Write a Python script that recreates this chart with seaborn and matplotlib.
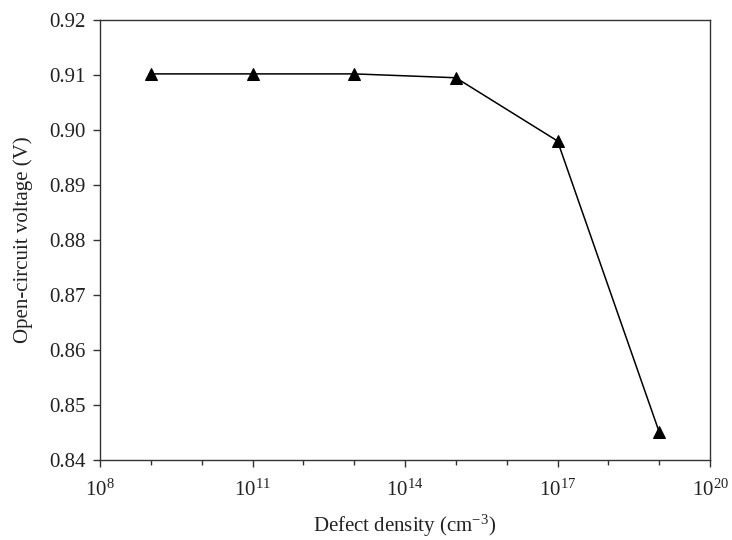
import matplotlib
matplotlib.use("Agg")
import matplotlib.pyplot as plt
import seaborn as sns
import numpy as np
import pandas as pd
from matplotlib.ticker import FixedLocator, FuncFormatter

defect_density = [1e9, 1e11, 1e13, 1e15, 1e17, 1e19]
voc = [0.9102, 0.9102, 0.9102, 0.9095, 0.8980, 0.8451]
y_ticks = [0.84, 0.85, 0.86, 0.87, 0.88, 0.89, 0.90, 0.91, 0.92]
x_major = [1e8, 1e11, 1e14, 1e17, 1e20]

sns.set_theme(style="ticks")
plt.rcParams['font.family'] = ['Liberation Serif', 'DejaVu Serif']
plt.rcParams['mathtext.fontset'] = 'custom'
plt.rcParams['mathtext.rm'] = 'Liberation Serif'
plt.rcParams['mathtext.it'] = 'Liberation Serif:italic'

df = pd.DataFrame({"x": defect_density, "y": voc})

fig = plt.figure(figsize=(7.32, 5.4), dpi=100)
ax = fig.add_axes([0.1366, 0.148, 0.8334, 0.815])
sns.lineplot(data=df, x="x", y="y", ax=ax, color="black", linewidth=1.1,
             marker="^", markersize=8, markeredgecolor="black", markerfacecolor="black")
ax.set_xscale("log")
ax.set_xlim(1e8, 1e20)
ax.set_ylim(0.84, 0.92)
ax.xaxis.set_major_locator(FixedLocator(x_major))
ax.xaxis.set_minor_locator(FixedLocator([10.0**k for k in range(8, 21) if 10.0**k not in x_major]))
ax.xaxis.set_major_formatter(FuncFormatter(lambda v, p: r"$10^{%d}$" % int(round(np.log10(v)))))
ax.xaxis.set_minor_formatter(FuncFormatter(lambda v, p: ""))
ax.set_yticks(y_ticks)
ax.set_yticklabels([f"{v:.2f}" for v in y_ticks])

for s in ax.spines.values():
    s.set_color("#333333")
    s.set_linewidth(1.0)
ax.tick_params(axis="both", which="major", direction="out", length=5, width=1, colors="#333333", labelcolor="#222222", labelsize=15)
ax.tick_params(axis="x", which="minor", direction="out", length=3.5, width=1, colors="#333333")
ax.tick_params(axis="x", pad=9)
ax.tick_params(axis="y", pad=5)
ax.set_xlabel(r"Defect density (cm$^{-3}$)", fontsize=15, color="#222222", labelpad=9)
ax.set_ylabel("Open-circuit voltage (V)", fontsize=15, color="#222222", labelpad=12)

fig.savefig("out.png", dpi=100)
